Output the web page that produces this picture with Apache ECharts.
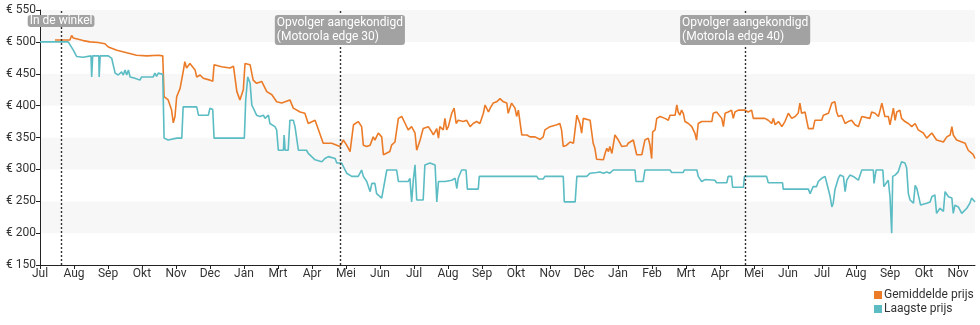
<!DOCTYPE html>
<html><head><meta charset="utf-8">
<script src="https://cdn.jsdelivr.net/npm/echarts@6/dist/echarts.min.js"></script>
<style>html,body{margin:0;padding:0;background:#fff}#c{width:980px;height:325px}</style>
</head><body><div id="c"></div>
<script>
// x values are in "month tick" units: 0 = first tick (Jul), 27 = last tick (Nov)
const monthLabels = ['Jul','Aug','Sep','Okt','Nov','Dec','Jan','Mrt','Apr','Mei','Jun','Jul','Aug','Sep','Okt','Nov','Dec','Jan','Feb','Mrt','Apr','Mei','Jun','Jul','Aug','Sep','Okt','Nov'];
const yTicks = [150, 550, 50]; // min, max, step

const avgX = [0.44,0.88,0.93,0.98,1.27,1.47,1.71,1.91,2.01,2.26,2.55,2.84,3.14,3.48,3.61,3.65,3.77,3.87,3.92,3.97,4.02,4.12,4.21,4.26,4.31,4.41,4.46,4.56,4.61,4.71,4.80,5.00,5.08,5.12,5.34,5.59,5.69,5.74,5.79,5.88,5.98,6.03,6.18,6.27,6.37,6.52,6.67,6.82,6.96,7.11,7.21,7.35,7.45,7.65,7.79,7.89,8.09,8.19,8.33,8.58,8.73,8.82,8.92,9.02,9.12,9.22,9.36,9.46,9.51,9.61,9.71,9.80,9.85,9.95,10.05,10.10,10.29,10.34,10.44,10.54,10.64,10.74,10.83,10.93,11.03,11.08,11.18,11.27,11.42,11.52,11.57,11.67,11.72,11.76,11.86,11.91,11.96,12.01,12.11,12.18,12.24,12.30,12.45,12.55,12.65,12.74,12.84,12.94,13.04,13.09,13.19,13.24,13.33,13.43,13.53,13.63,13.73,13.77,13.87,13.97,14.02,14.07,14.12,14.17,14.32,14.41,14.56,14.71,14.80,14.85,15.00,15.20,15.29,15.34,15.39,15.49,15.59,15.69,15.79,15.88,15.93,15.98,16.18,16.23,16.27,16.32,16.37,16.57,16.62,16.67,16.72,16.76,16.82,16.91,17.01,17.11,17.26,17.30,17.45,17.55,17.70,17.79,17.89,17.94,17.99,18.02,18.09,18.14,18.24,18.38,18.48,18.53,18.68,18.73,18.77,18.82,18.87,18.92,18.97,19.07,19.17,19.26,19.31,19.36,19.46,19.76,19.80,19.90,20.05,20.10,20.15,20.24,20.34,20.39,20.44,20.54,20.74,20.83,20.93,20.98,21.32,21.42,21.52,21.57,21.62,21.72,21.82,21.91,22.01,22.11,22.21,22.30,22.35,22.40,22.45,22.50,22.60,22.74,22.79,22.99,23.04,23.19,23.29,23.38,23.43,23.48,23.58,23.68,23.77,23.87,23.97,24.07,24.17,24.41,24.46,24.56,24.66,24.71,24.76,24.85,24.95,25.00,25.10,25.15,25.20,25.29,25.34,25.44,25.54,25.64,25.74,25.83,25.98,26.08,26.23,26.37,26.57,26.67,26.77,26.82,26.86,26.96,27.21,27.30,27.35,27.45,27.50];
const avgY = [503,503,510,506,502,500,499,497,492,487,483,479,478,479,478,414,409,393,373,383,414,427,453,469,459,466,467,456,445,448,443,440,438,464,461,459,462,459,422,409,425,466,464,440,435,438,422,417,406,404,406,409,396,390,388,372,377,362,341,341,338,336,346,338,328,370,375,367,338,336,338,351,346,357,351,323,328,338,343,380,383,372,362,367,357,330,346,364,367,359,354,364,349,367,362,380,362,367,388,396,372,377,375,377,367,372,375,372,388,401,390,396,404,406,411,406,404,388,404,396,383,393,396,354,354,351,351,347,351,362,367,370,372,362,336,338,343,341,385,372,357,380,377,357,341,333,316,315,325,333,328,336,325,354,346,336,337,341,346,323,323,346,349,338,317,359,362,380,383,380,377,385,385,401,390,385,393,388,375,372,367,357,346,372,375,375,388,390,380,367,388,390,393,380,390,393,393,390,393,380,380,377,372,380,370,375,367,375,388,380,383,388,404,388,385,390,364,364,377,377,385,388,404,406,390,383,385,372,375,377,370,367,383,380,390,388,383,393,404,383,383,370,396,377,390,393,380,375,372,367,372,362,357,349,357,346,343,351,354,367,354,346,341,330,333,323,317];

const lowX = [0,0.83,0.98,1.08,1.27,1.50,1.52,1.55,1.73,1.74,1.77,2.01,2.11,2.21,2.30,2.40,2.45,2.50,2.55,2.60,2.65,2.79,2.94,2.99,3.33,3.38,3.43,3.48,3.61,3.65,3.77,4.02,4.17,4.21,4.61,4.66,4.95,5.00,5.08,5.12,6.01,6.05,6.11,6.18,6.23,6.27,6.37,6.47,6.57,6.62,6.72,6.76,6.91,6.96,7.01,7.16,7.18,7.21,7.30,7.35,7.45,7.50,7.55,7.60,7.84,7.89,8.09,8.29,8.38,8.48,8.68,8.73,8.77,8.87,8.92,9.02,9.17,9.36,9.46,9.51,9.61,9.71,9.76,9.85,9.90,10.05,10.10,10.20,10.49,10.54,10.83,10.88,10.93,10.98,11.03,11.08,11.27,11.32,11.47,11.62,11.67,11.72,11.91,11.96,12.11,12.21,12.26,12.30,12.40,12.53,12.57,12.89,12.92,14.61,14.66,14.80,14.85,15.39,15.42,15.74,15.79,16.08,16.18,16.37,16.47,16.57,16.67,16.76,16.86,17.50,17.53,17.74,17.79,18.53,18.58,18.92,18.95,19.32,19.36,19.46,19.56,19.85,19.90,20.20,20.24,20.34,20.37,20.69,20.72,21.37,21.42,21.84,21.86,22.60,22.65,22.74,22.84,22.89,22.99,23.09,23.19,23.24,23.29,23.33,23.38,23.48,23.53,23.63,23.68,23.73,23.82,23.92,23.97,24.07,24.12,24.17,24.51,24.53,24.59,24.79,24.82,24.88,24.95,25.00,25.05,25.08,25.15,25.20,25.24,25.29,25.34,25.44,25.49,25.54,25.59,25.64,25.69,25.74,25.79,25.83,25.90,26.08,26.18,26.23,26.27,26.32,26.37,26.47,26.57,26.62,26.72,26.82,26.86,26.91,27.01,27.11,27.16,27.26,27.35,27.40,27.50];
const lowY = [500,500,487,477,476,478,445,478,478,445,478,478,474,451,448,453,448,456,448,456,445,443,440,445,445,451,446,451,449,349,346,349,349,398,398,385,385,396,394,349,349,409,445,435,401,398,385,383,385,380,385,372,367,362,330,330,354,330,330,377,377,367,367,330,330,325,315,312,317,320,317,310,312,310,310,294,289,289,299,289,281,265,278,278,262,255,257,299,299,281,281,286,249,283,307,252,252,307,310,307,249,281,281,283,283,286,270,286,299,299,269,269,289,289,285,285,289,289,249,249,289,289,294,295,296,294,296,294,299,299,281,281,299,299,295,295,299,299,289,281,284,283,279,279,289,289,272,272,289,289,279,279,269,269,262,273,273,281,286,289,268,257,241,247,268,286,291,289,265,283,291,289,291,283,286,299,299,278,299,299,273,278,283,257,200,289,291,294,296,304,312,310,302,262,252,255,247,275,270,273,244,247,249,257,255,260,231,239,234,265,257,255,231,244,241,231,234,239,247,255,249];

const eventX = [0.62, 8.82, 20.74];
const eventLines = [['In de winkel'], ['Opvolger aangekondigd','(Motorola edge 30)'], ['Opvolger aangekondigd','(Motorola edge 40)']];

const zip = (xs, ys) => xs.map((x, i) => [x, ys[i]]);
const FONT = 'Roboto';

const markData = eventX.map((x, i) => {
  const lines = eventLines[i];
  const single = lines.length === 1;
  return [
    { coord: [x, yTicks[0]],
      label: {
        show: true, position: 'end',
        distance: single ? -17 : -35,
        formatter: lines.map(t => '{l|' + t + '}').join('\n'),
        backgroundColor: '#a2a2a2', borderRadius: 3,
        padding: single ? [0, 2] : [1, 2],
        rich: { l: { align: 'left', color: '#fff', fontSize: 12, fontFamily: FONT, lineHeight: single ? 12 : 14 } }
      }
    },
    { coord: [x, yTicks[1]] }
  ];
});

const chart = echarts.init(document.getElementById('c'), null, { renderer: 'canvas' });
chart.setOption({
  animation: false,
  textStyle: { fontFamily: FONT },
  grid: { left: 40, right: 5, top: 10, bottom: 60, containLabel: false },
  legend: {
    orient: 'vertical', left: 874, top: 289, itemWidth: 8, itemHeight: 8, itemGap: 2, padding: 0,
    icon: 'rect',
    textStyle: { color: '#333', fontSize: 12, fontFamily: FONT, padding: [0, 0, 0, -3] },
    data: ['Gemiddelde prijs', 'Laagste prijs']
  },
  xAxis: {
    type: 'value', min: 0, max: 27.5,
    axisLine: { lineStyle: { color: '#222', width: 1 } },
    axisTick: { show: true, length: 4, lineStyle: { color: '#222' }, customValues: monthLabels.map((m, i) => i) },
    axisLabel: { color: '#333', fontSize: 12, margin: 3, customValues: monthLabels.map((m, i) => i),
                 formatter: v => monthLabels[Math.round(v)] || '' },
    splitLine: { show: false }
  },
  yAxis: {
    type: 'value', min: yTicks[0], max: yTicks[1], interval: yTicks[2],
    axisLine: { show: true, lineStyle: { color: '#222', width: 1 } },
    axisTick: { show: true, length: 4, lineStyle: { color: '#222' } },
    axisLabel: { color: '#333', fontSize: 12, margin: 4, formatter: '€ {value}' },
    splitLine: { show: false },
    splitArea: { show: true, areaStyle: { color: ['#ffffff', '#f7f7f7'] } }
  },
  series: [
    { name: 'Gemiddelde prijs', type: 'line', data: zip(avgX, avgY), showSymbol: false, symbol: 'none',
      color: '#ec7b28', lineStyle: { width: 1.6, color: '#ec7b28' } },
    { name: 'Laagste prijs', type: 'line', data: zip(lowX, lowY), showSymbol: false, symbol: 'none',
      color: '#5bbcc4', lineStyle: { width: 1.6, color: '#5bbcc4' },
      markLine: { silent: true, symbol: ['none', 'none'], animation: false,
        lineStyle: { color: '#333', width: 1.4, type: [2, 2] }, emphasis: { disabled: true },
        data: markData } }
  ]
});
</script></body></html>
